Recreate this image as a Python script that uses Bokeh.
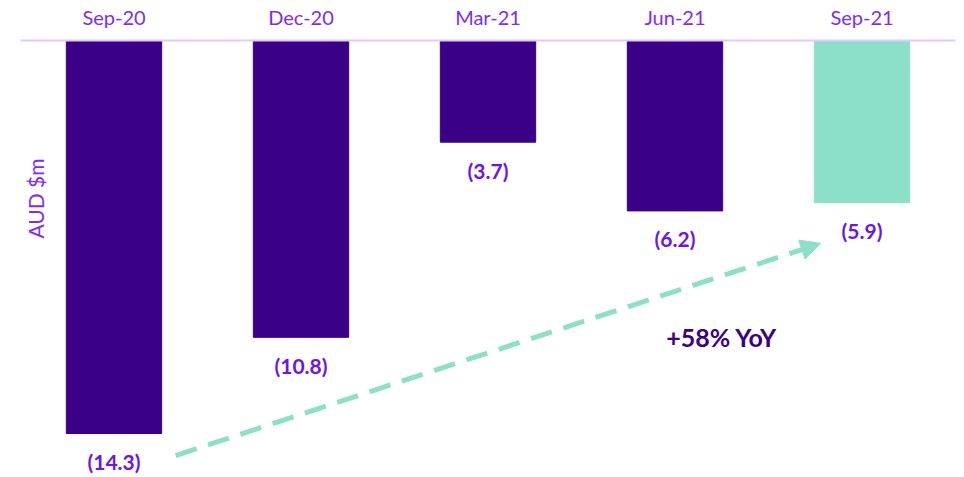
import math
from bokeh.plotting import figure
from bokeh.models import (FactorRange, Range1d, ColumnDataSource, Label, Arrow,
                          NormalHead)
from bokeh.core.properties import value
from bokeh.embed import file_html
from bokeh.resources import INLINE

categories = ["Sep-20", "Dec-20", "Mar-21", "Jun-21", "Sep-21"]
values = [-14.3, -10.8, -3.7, -6.2, -5.9]
value_labels = ["(14.3)", "(10.8)", "(3.7)", "(6.2)", "(5.9)"]
bar_colors = ["#3a0086", "#3a0086", "#3a0086", "#3a0086", "#8de0c8"]
annotation_text = "+58% YoY"
y_label = "AUD $m"

FONT = "Lato"
LABEL_COLOR = "#7a2cff"
VALUE_COLOR = "#6a16ea"

p = figure(x_range=FactorRange(*categories, range_padding=0),
           y_range=Range1d(-15.9, 0),
           width=964, height=477, output_backend="svg", toolbar_location=None,
           x_axis_location="above",
           min_border_left=20, min_border_right=9, min_border_top=40,
           min_border_bottom=0)

src = ColumnDataSource(dict(cat=categories, val=values, lbl=value_labels, color=bar_colors))
p.vbar(x="cat", top=0, bottom="val", width=0.51, fill_color="color",
       line_color="color", line_width=1, source=src)

p.text(x="cat", y="val", text="lbl", y_offset=28, text_align="center",
       text_baseline="middle", text_font=value(FONT), text_font_style="bold",
       text_font_size="21px", text_color=VALUE_COLOR, source=src)

# dashed growth arrow from the Sep-20 label to the Sep-21 label (synthetic factor coords)
arrow_start = (0.83, -15.1)
arrow_end = (4.28, -7.38)
p.add_layout(Arrow(x_start=arrow_start[0], y_start=arrow_start[1],
                   x_end=arrow_end[0], y_end=arrow_end[1],
                   line_color="#8de0c8", line_width=5,
                   line_dash="22 12",
                   end=NormalHead(size=20, fill_color="#8de0c8", line_color="#8de0c8")))

p.add_layout(Label(x=3.75, y=-10.8, text=annotation_text,
                   text_align="center", text_baseline="middle",
                   text_font=FONT, text_font_style="bold", text_font_size="25px",
                   text_color="#3a0086"))

p.add_layout(Label(x=15, y=279, x_units="screen", y_units="screen", text=y_label,
                   angle=math.pi / 2, text_align="center", text_baseline="middle",
                   text_font=FONT, text_font_size="21px", text_color=LABEL_COLOR))

p.yaxis.visible = False
ax = p.xaxis[0]
ax.axis_line_color = "#dccbff"
ax.axis_line_width = 2
ax.major_tick_line_color = None
ax.minor_tick_line_color = None
ax.major_label_standoff = 6
ax.major_label_text_font = FONT
ax.major_label_text_font_size = "20px"
ax.major_label_text_color = LABEL_COLOR
p.xgrid.visible = False
p.ygrid.visible = False
p.outline_line_color = None
p.background_fill_color = "white"
p.border_fill_color = "white"

open("out.html", "w").write(file_html(p, INLINE))
